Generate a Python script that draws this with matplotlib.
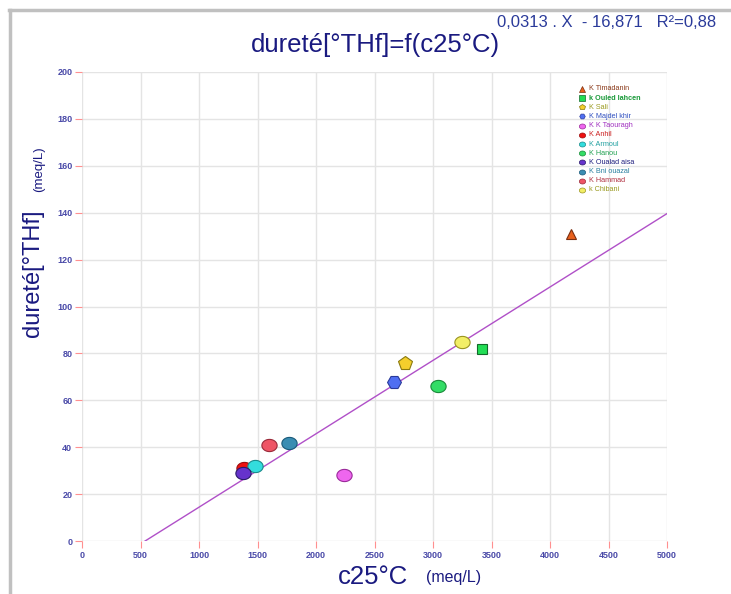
import numpy as np
import matplotlib
matplotlib.use("Agg")
import matplotlib.pyplot as plt
from matplotlib.path import Path

plt.rcParams['font.family'] = ['Liberation Sans', 'DejaVu Sans']

# stations : conductivité c25°C et dureté THf
stations = ["K Timadanin", "k Ouled lahcen", "K Sali", "K Majdel khir",
            "K K Taouragh", "K Anhil", "K Armoul", "K Hanou",
            "K Oualad aisa", "K Bni ouazal", "K Hammad", "k Chibani"]
c25 = [4180, 3420, 2760, 2665, 2240, 1385, 1480, 3045, 1375, 1770, 1600, 3250]
thf = [131, 82, 76, 68, 28, 31, 32, 66, 29, 42, 41, 85]

# droite de régression
pente = 0.0313
ordonnee = -16.871
r2 = "0,88"

face = ["#e8601c", "#22dd55", "#f4cf2c", "#4f6ff2", "#ee66ee", "#ee1111",
        "#33dddd", "#33dd66", "#6633cc", "#3a8db2", "#ee5566", "#f2ee66"]
edge = ["#7a2e10", "#126a2a", "#8a7a10", "#2a3a9a", "#9a2a9a", "#9a1010",
        "#1a8a8a", "#1a8a3a", "#2a1a6a", "#1a5a7a", "#9a2a3a", "#9a9420"]
txtcol = ["#8a3a1a", "#1a9a3a", "#9a9a20", "#3050c0", "#a030c0", "#cc2020",
          "#20a0a0", "#20a050", "#202080", "#2a80a0", "#b03040", "#9a9a20"]

t = np.linspace(0, 2 * np.pi, 40)
ellipse = Path(np.column_stack([np.cos(t), 0.8 * np.sin(t)]), closed=True)
markers = ["^", "s", "p", "H"] + [ellipse] * 8
sizes = [7, 7, 10, 10] + [11] * 8

fig = plt.figure(figsize=(7.31, 5.94), dpi=100)
ax = fig.add_axes([0.1122, 0.0892, 0.8003, 0.7896])

navy = "#1a1a80"
tick_col = "#4a4aa8"

for i in range(len(stations)):
    ax.plot(c25[i], thf[i], marker=markers[i], ms=sizes[i], mfc=face[i],
            mec=edge[i], mew=0.8, ls="none", zorder=3)

x0 = -ordonnee / pente
xs = np.array([x0, 5000])
ax.plot(xs, pente * xs + ordonnee, color="#b050c8", lw=1.0, zorder=2)

ax.set_xlim(0, 5000)
ax.set_ylim(0, 200)
ax.set_xticks(np.arange(0, 5001, 500))
ax.set_yticks(np.arange(0, 201, 20))
ax.grid(True, color="#e4e4e4", lw=1)
ax.set_axisbelow(True)
for s in ax.spines.values():
    s.set_visible(False)
ax.tick_params(colors="#ff9090", labelcolor=tick_col, labelsize=6.5,
               length=5, width=0.8, pad=2)
for lab in ax.get_xticklabels() + ax.get_yticklabels():
    lab.set_fontweight("bold")

# légende en texte coloré
for i in range(len(stations)):
    y = 0.964 - i * 0.0196
    ax.plot(0.855, y, transform=ax.transAxes, marker=markers[i],
            ms=4.5 if i > 3 else 4, mfc=face[i], mec=edge[i], mew=0.5,
            ls="none", clip_on=False)
    ax.text(0.866, y, stations[i], transform=ax.transAxes, fontsize=5.2,
            color=txtcol[i], va="center",
            fontweight="bold" if i == 1 else "normal")

fig.text(0.513, 0.925, "dureté[°THf]=f(c25°C)", fontsize=18.5, color=navy,
         ha="center", va="center")
fig.text(0.68, 0.962, "0,0313 . X  - 16,871   R²=" + r2, fontsize=12,
         color="#2a3a9a", ha="left", va="center")

fig.text(0.51, 0.028, "c25°C", fontsize=18.5, color=navy, ha="center",
         va="center")
fig.text(0.583, 0.028, "(meq/L)", fontsize=11.5, color=navy, ha="left",
         va="center")
fig.text(0.045, 0.54, "dureté[°THf]", fontsize=17, color=navy,
         ha="center", va="center", rotation=90)
fig.text(0.053, 0.715, "(meq/L)", fontsize=9.5, color=navy, ha="center",
         va="center", rotation=90)

# cadre gris
fig.add_artist(plt.Line2D([0.013, 0.013], [0, 0.983], color="#c0c0c0",
                          lw=2.5, transform=fig.transFigure))
fig.add_artist(plt.Line2D([0.012, 1], [0.983, 0.983], color="#c0c0c0",
                          lw=2.5, transform=fig.transFigure))

fig.savefig("out.png", dpi=100)
